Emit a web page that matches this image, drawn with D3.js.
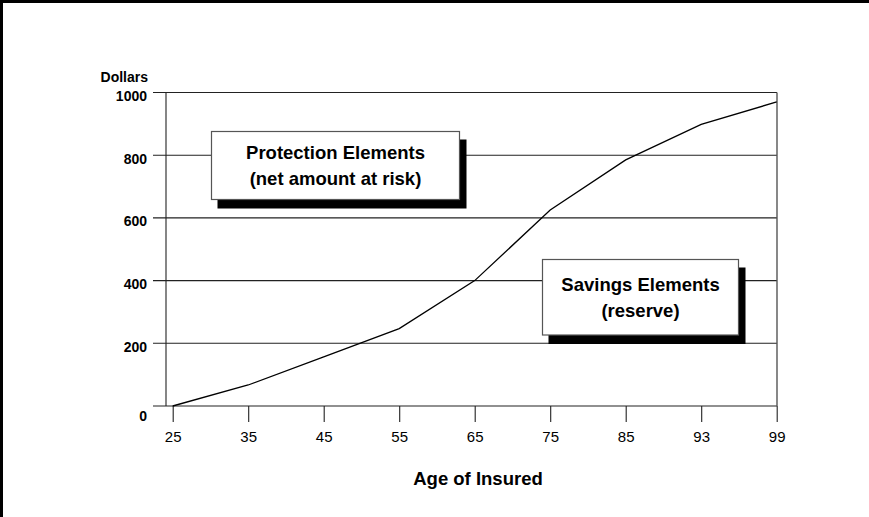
<!DOCTYPE html>
<html>
<head>
<meta charset="utf-8">
<script src="https://cdn.jsdelivr.net/npm/d3@7"></script>
<style>
  html, body { margin: 0; padding: 0; background: #fff; }
  svg { display: block; font-family: "Liberation Sans", Arial, Helvetica, sans-serif; }
</style>
</head>
<body>
<svg id="chart" width="869" height="517"></svg>
<script>
// Ages shown on the horizontal axis
const ages = ["25", "35", "45", "55", "65", "75", "85", "93", "99"];
// Reserve (savings element) per $1,000 of coverage at each age
const reserve = [0, 67, 157, 247, 400, 625, 785, 898, 970];
// Dollar gridlines
const dollarTicks = [0, 200, 400, 600, 800, 1000];
// Callout captions
const protectionLines = ["Protection Elements", "(net amount at risk)"];
const savingsLines = ["Savings Elements", "(reserve)"];

const svg = d3.select("#chart");
const W = 869, H = 517;
const plot = { left: 166, right: 777, top: 92.5, bottom: 406 };

// page frame (top and left rules)
svg.append("rect").attr("x", 0).attr("y", 0).attr("width", W).attr("height", H).attr("fill", "#fff");
svg.append("line").attr("x1", 0).attr("x2", W).attr("y1", 1.5).attr("y2", 1.5)
  .attr("stroke", "#000").attr("stroke-width", 3);
svg.append("line").attr("x1", 1.5).attr("x2", 1.5).attr("y1", 0).attr("y2", H)
  .attr("stroke", "#000").attr("stroke-width", 3);

const x = d3.scalePoint().domain(ages).range([172.7, 776.7]);
const y = d3.scaleLinear().domain([0, 1000]).range([plot.bottom, plot.top]);

// horizontal gridlines with short ticks to the left of the axis
const grid = svg.append("g");
grid.selectAll("line").data(dollarTicks).join("line")
  .attr("x1", plot.left - 13).attr("x2", plot.right)
  .attr("y1", d => y(d)).attr("y2", d => y(d))
  .attr("stroke", "#222").attr("stroke-width", 1.1);

// y tick labels
svg.append("g").selectAll("text").data(dollarTicks).join("text")
  .attr("x", 147)
  .attr("y", d => y(d) + (d === 0 ? 10.5 : 3.5))
  .attr("dy", "0.35em")
  .attr("text-anchor", "end")
  .attr("font-size", 14).attr("font-weight", "bold")
  .text(d => d);

svg.append("text").attr("x", 148).attr("y", 82)
  .attr("text-anchor", "end").attr("font-size", 14).attr("font-weight", "bold")
  .text("Dollars");

// vertical axis and right frame
svg.append("line").attr("x1", plot.left).attr("x2", plot.left)
  .attr("y1", plot.top).attr("y2", plot.bottom).attr("stroke", "#222").attr("stroke-width", 1.1);
svg.append("line").attr("x1", plot.right).attr("x2", plot.right)
  .attr("y1", plot.top).attr("y2", plot.bottom).attr("stroke", "#555").attr("stroke-width", 1.4);

// x axis
const xAxis = d3.axisBottom(x).tickSize(16).tickPadding(9).tickSizeOuter(0);
const gx = svg.append("g").attr("transform", `translate(0,${plot.bottom})`).call(xAxis);
gx.select(".domain").remove();
gx.selectAll(".tick line").attr("stroke", "#222").attr("stroke-width", 1.1);
gx.selectAll(".tick text")
  .attr("font-family", "\"Liberation Sans\", Arial, sans-serif")
  .attr("font-size", 15).attr("fill", "#000");

svg.append("text").attr("x", 478).attr("y", 484.5)
  .attr("text-anchor", "middle").attr("font-size", 18.5).attr("font-weight", "bold")
  .text("Age of Insured");

// reserve curve
const line = d3.line().x((d, i) => x(ages[i])).y(d => y(d));
svg.append("path").datum(reserve)
  .attr("d", line)
  .attr("fill", "none").attr("stroke", "#000").attr("stroke-width", 1.3);

// shadowed callout boxes
function callout(x0, y0, w, h, lines) {
  const g = svg.append("g");
  g.append("rect").attr("x", x0 + 6).attr("y", y0 + 8).attr("width", w + 1).attr("height", h + 1)
    .attr("fill", "#000");
  g.append("rect").attr("x", x0).attr("y", y0).attr("width", w).attr("height", h)
    .attr("fill", "#fff").attr("stroke", "#555").attr("stroke-width", 1.2);
  const cx = x0 + w / 2;
  const cy = y0 + h / 2;
  g.selectAll("text").data(lines).join("text")
    .attr("x", cx)
    .attr("y", (d, i) => cy + (i - (lines.length - 1) / 2) * 26.6)
    .attr("dy", "0.36em")
    .attr("text-anchor", "middle")
    .attr("font-size", 18.5).attr("font-weight", "bold")
    .text(d => d);
}

callout(211.5, 131.5, 248, 68, protectionLines);
callout(542.5, 259.5, 196, 75.5, savingsLines);
</script>
</body>
</html>
